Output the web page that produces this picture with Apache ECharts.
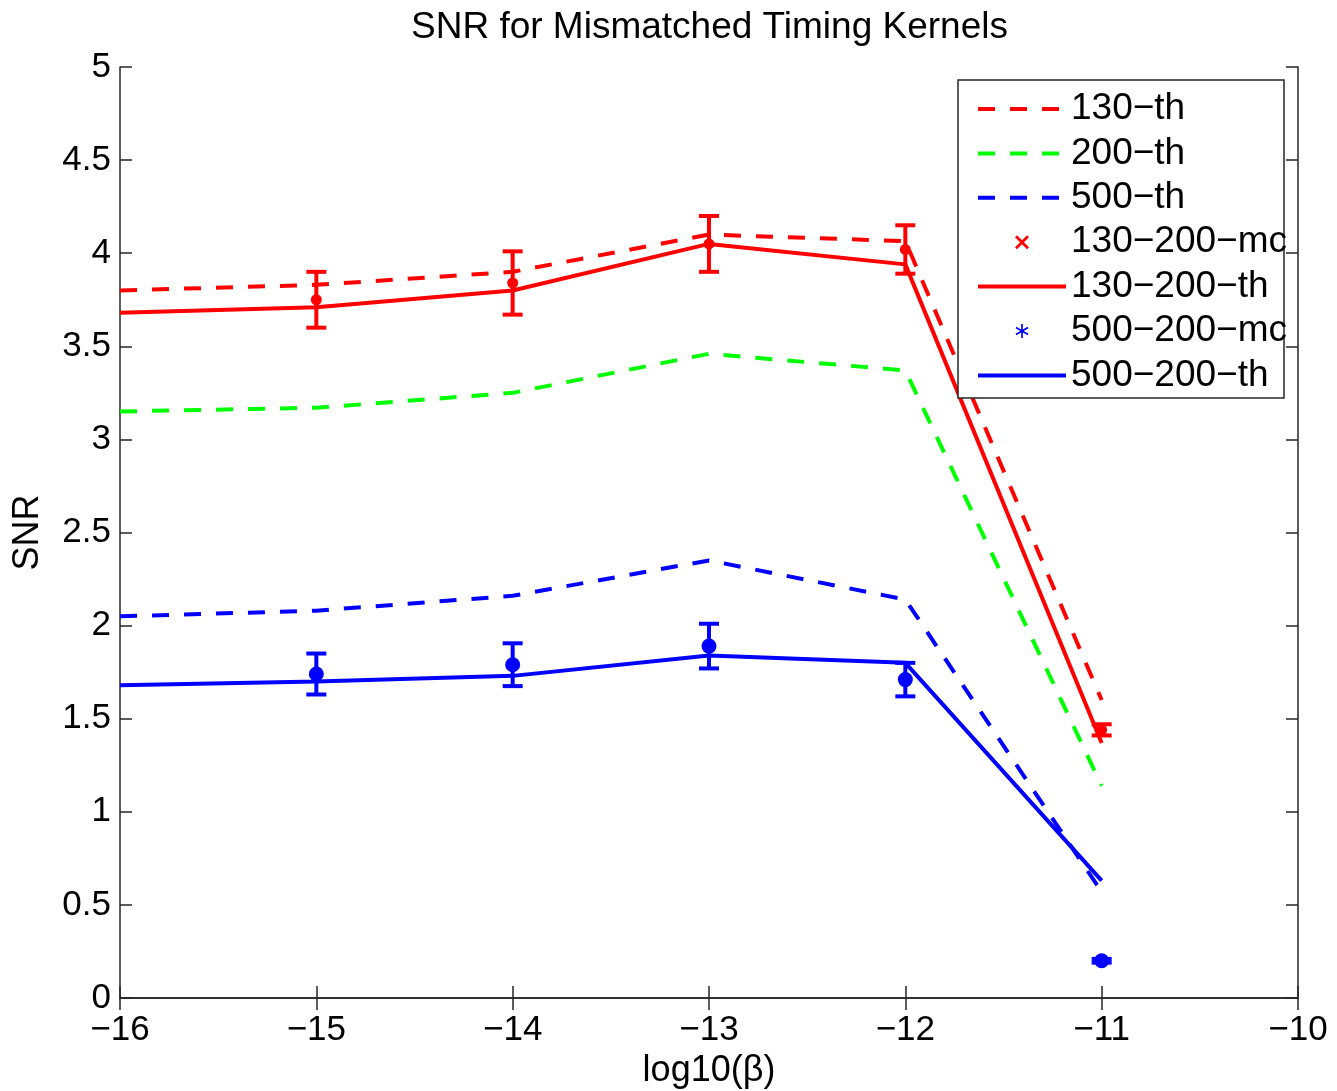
<!DOCTYPE html>
<html>
<head>
<meta charset="utf-8">
<script src="https://cdn.jsdelivr.net/npm/echarts@6/dist/echarts.min.js"></script>
<style>html,body{margin:0;padding:0;background:#fff;}#chart{width:1337px;height:1091px;}</style>
</head>
<body>
<div id="chart"></div>
<script>
const xValues = [-16, -15, -14, -13, -12, -11];
const th130 = [3.80, 3.83, 3.90, 4.10, 4.065, 1.60];
const th200 = [3.15, 3.17, 3.25, 3.46, 3.37, 1.14];
const th500 = [2.05, 2.08, 2.16, 2.35, 2.14, 0.57];
const th130_200 = [3.68, 3.71, 3.80, 4.05, 3.94, 1.37];
const th500_200 = [1.68, 1.70, 1.73, 1.84, 1.80, 0.63];
const mcX = [-15, -14, -13, -12, -11];
const mc130_200 = [3.75, 3.84, 4.05, 4.02, 1.44];
const mc130_200_err = [0.15, 0.17, 0.15, 0.13, 0.03];
const mc500_200 = [1.74, 1.79, 1.89, 1.71, 0.20];
const mc500_200_err = [0.11, 0.115, 0.12, 0.09, 0.01];
const legendNames = ['130−th', '200−th', '500−th', '130−200−mc', '130−200−th', '500−200−mc', '500−200−th'];

const FONT = 'Liberation Sans, Arial, Helvetica, sans-serif';
const RED = '#ff0000', GREEN = '#00ff00', BLUE = '#0000ff';
const CLEAR = 'rgba(0,0,0,0)';

function pairs(xs, ys) { return xs.map((x, i) => [x, ys[i]]); }
function errData(xs, ys, es) { return xs.map((x, i) => [x, ys[i], ys[i] - es[i], ys[i] + es[i]]); }

function errRender(color, r) {
  return function (params, api) {
    const x = api.value(0), m = api.value(1), lo = api.value(2), hi = api.value(3);
    const pm = api.coord([x, m]), pl = api.coord([x, lo]), ph = api.coord([x, hi]);
    const cw = 10;
    const st = { stroke: color, lineWidth: 4, fill: null };
    return {
      type: 'group',
      children: [
        { type: 'line', shape: { x1: pl[0], y1: pl[1], x2: ph[0], y2: ph[1] }, style: st },
        { type: 'line', shape: { x1: pl[0] - cw, y1: pl[1], x2: pl[0] + cw, y2: pl[1] }, style: st },
        { type: 'line', shape: { x1: ph[0] - cw, y1: ph[1], x2: ph[0] + cw, y2: ph[1] }, style: st },
        { type: 'circle', shape: { cx: pm[0], cy: pm[1], r: r }, style: { fill: color } }
      ]
    };
  };
}

function lineSeries(name, ys, color, dashed) {
  return {
    name: name, type: 'line', data: pairs(xValues, ys),
    symbol: 'circle', showSymbol: false,
    itemStyle: { color: CLEAR },
    lineStyle: { color: color, width: 4, type: dashed ? [17, 15] : 'solid' },
    emphasis: { disabled: true },
    z: dashed ? 2 : 4
  };
}

const chart = echarts.init(document.getElementById('chart'), null, { renderer: 'canvas' });
const axisLineStyle = { color: '#262626', width: 1.5 };
const TICK_FS = 35;
const option = {
  backgroundColor: '#fff',
  animation: false,
  title: {
    text: 'SNR for Mismatched Timing Kernels',
    left: 411, top: 4,
    padding: [5, 0, 5, 0],
    textStyle: { fontFamily: FONT, fontSize: 37, fontWeight: 'normal', color: '#000' }
  },
  grid: { left: 120, right: 39, top: 67, bottom: 93, containLabel: false, outerBoundsMode: 'none' },
  xAxis: [
    {
      type: 'value', min: -16, max: -10, interval: 1, position: 'bottom',
      name: 'log10(β)', nameLocation: 'middle', nameGap: 52,
      nameTextStyle: { fontFamily: FONT, fontSize: 36, color: '#000' },
      axisLine: { lineStyle: axisLineStyle },
      axisTick: { inside: true, length: 12, lineStyle: axisLineStyle },
      axisLabel: { fontFamily: FONT, fontSize: TICK_FS, color: '#000', margin: 15, formatter: v => String(v).replace('-', '−') },
      splitLine: { show: false }
    },
    {
      type: 'value', min: -16, max: -10, interval: 1, position: 'top',
      axisLine: { lineStyle: axisLineStyle },
      axisTick: { inside: true, length: 12, lineStyle: axisLineStyle },
      axisLabel: { show: false }, splitLine: { show: false }
    }
  ],
  yAxis: [
    {
      type: 'value', min: 0, max: 5, interval: 0.5, position: 'left',
      name: 'SNR', nameLocation: 'middle', nameGap: 74, nameRotate: 90,
      nameTextStyle: { fontFamily: FONT, fontSize: 36, color: '#000' },
      axisLine: { lineStyle: axisLineStyle },
      axisTick: { inside: true, length: 12, lineStyle: axisLineStyle },
      axisLabel: { fontFamily: FONT, fontSize: TICK_FS, color: '#000', margin: 9 },
      splitLine: { show: false }
    },
    {
      type: 'value', min: 0, max: 5, interval: 0.5, position: 'right',
      axisLine: { lineStyle: axisLineStyle },
      axisTick: { inside: true, length: 12, lineStyle: axisLineStyle },
      axisLabel: { show: false }, splitLine: { show: false }
    }
  ],
  legend: {
    orient: 'vertical', left: 976, top: 89,
    itemWidth: 88, itemHeight: 14, itemGap: 4.4,
    padding: [0, 0, 0, 0],
    textStyle: { fontFamily: FONT, fontSize: 37, color: '#000', lineHeight: 40 },
    lineStyle: { width: 4 },
    selectedMode: false,
    z: 10,
    data: [
      { name: legendNames[0], lineStyle: { width: 4 } },
      { name: legendNames[1], lineStyle: { width: 4 } },
      { name: legendNames[2], lineStyle: { width: 4 } },
      { name: legendNames[3], icon: 'path://M0,1.4L1.4,0L5,3.6L8.6,0L10,1.4L6.4,5L10,8.6L8.6,10L5,6.4L1.4,10L0,8.6L3.6,5Z', itemStyle: { color: RED } },
      { name: legendNames[4], lineStyle: { width: 4 } },
      { name: legendNames[5], icon: 'path://M4.4,0H5.6V3.9L9.0,1.9L9.6,3.0L6.2,5L9.6,7.0L9.0,8.1L5.6,6.1V10H4.4V6.1L1.0,8.1L0.4,7.0L3.8,5L0.4,3.0L1.0,1.9L4.4,3.9Z', itemStyle: { color: BLUE } },
      { name: legendNames[6], lineStyle: { width: 4 } }
    ]
  },
  graphic: [
    {
      type: 'rect', z: 9, silent: true,
      shape: { x: 958, y: 80, width: 326, height: 318 },
      style: { fill: '#fff', stroke: '#262626', lineWidth: 1.5 }
    }
  ],
  series: [
    lineSeries(legendNames[0], th130, RED, true),
    lineSeries(legendNames[1], th200, GREEN, true),
    lineSeries(legendNames[2], th500, BLUE, true),
    { name: legendNames[3], type: 'custom', data: errData(mcX, mc130_200, mc130_200_err), renderItem: errRender(RED, 5.5), itemStyle: { color: RED }, encode: { x: 0, y: [1, 2, 3] }, z: 3 },
    lineSeries(legendNames[4], th130_200, RED, false),
    { name: legendNames[5], type: 'custom', data: errData(mcX, mc500_200, mc500_200_err), renderItem: errRender(BLUE, 7.5), itemStyle: { color: BLUE }, encode: { x: 0, y: [1, 2, 3] }, z: 3 },
    lineSeries(legendNames[6], th500_200, BLUE, false)
  ]
};
chart.setOption(option);
</script>
</body>
</html>
